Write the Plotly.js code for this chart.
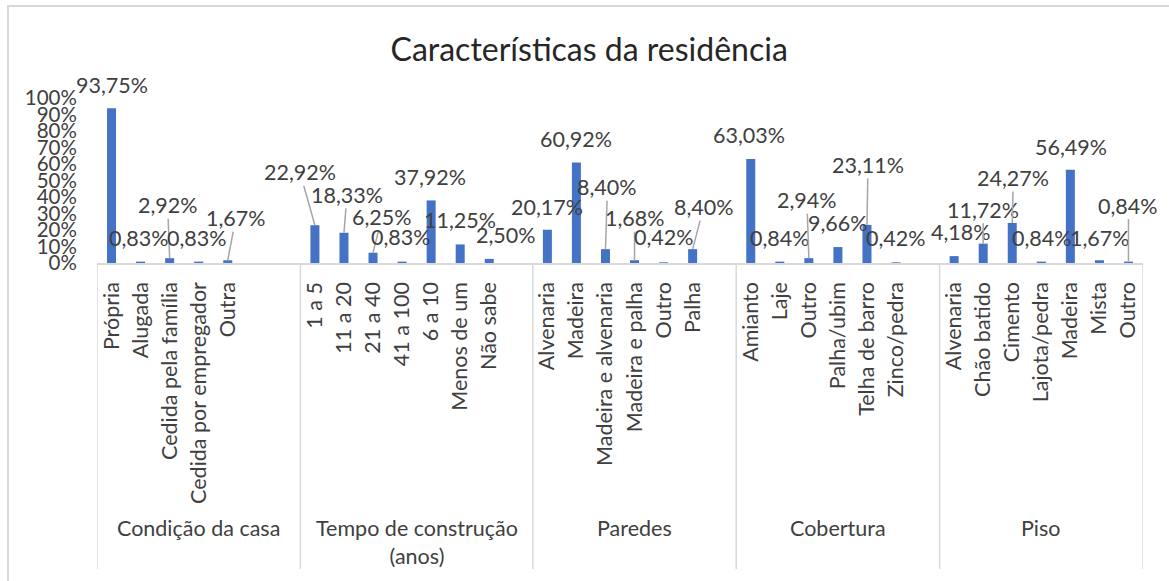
<!DOCTYPE html>
<html>
<head>
<meta charset="utf-8">
<script src="https://cdn.plot.ly/plotly-3.0.1.min.js"></script>
<style>
  html, body { margin: 0; padding: 0; background: #fff; }
  #wrap { position: relative; width: 1169px; height: 581px; overflow: hidden; }
  #chart { position: absolute; left: 0; top: 0; width: 1169px; height: 581px; }
  #frame { position: absolute; left: 7px; top: 5px; width: 1200px; height: 620px;
           border-left: 2px solid #D9D9D9; border-top: 2px solid #D9D9D9; pointer-events: none; }
</style>
</head>
<body>
<div id="wrap"><div id="chart"></div><div id="frame"></div></div>
<script>
// ---- Data ----
const groupNames = ['Condição da casa', 'Tempo de construção<br>(anos)', 'Paredes', 'Cobertura', 'Piso'];

const condicaoCats = ['Própria', 'Alugada', 'Cedida pela família', 'Cedida por empregador', 'Outra', '', ''];
const condicaoVals = [93.75, 0.83, 2.92, 0.83, 1.67, null, null];

const tempoCats = ['1 a 5', '11 a 20', '21 a 40', '41 a 100', '6 a 10', 'Menos de um', 'Não sabe', ''];
const tempoVals = [22.92, 18.33, 6.25, 0.83, 37.92, 11.25, 2.50, null];

const paredesCats = ['Alvenaria', 'Madeira', 'Madeira e alvenaria', 'Madeira e palha', 'Outro', 'Palha', ''];
const paredesVals = [20.17, 60.92, 8.40, 1.68, 0.42, 8.40, null];

const coberturaCats = ['Amianto', 'Laje', 'Outro', 'Palha/ubim', 'Telha de barro', 'Zinco/pedra', ''];
const coberturaVals = [63.03, 0.84, 2.94, 9.66, 23.11, 0.42, null];

const pisoCats = ['Alvenaria', 'Chão batido', 'Cimento', 'Lajota/pedra', 'Madeira', 'Mista', 'Outro'];
const pisoVals = [4.18, 11.72, 24.27, 0.84, 56.49, 1.67, 0.84];

const yTickVals = [0, 10, 20, 30, 40, 50, 60, 70, 80, 90, 100];
const yTickText = ['0%', '10%', '20%', '30%', '40%', '50%', '60%', '70%', '80%', '90%', '100%'];

// ---- Label placement styles (pixel offsets from bar top, leader line flag) ----
const labelStyle = [
  [[0,-23,0],[-2,-24,0],[-2,-53,1],[-2,-24,0],[8,-42,1],null,null],
  [[-15,-53,1],[3,-38,1],[9,-36,1],[-1,-25,0],[-1,-23,0],[0,-24,0],[17,-24,0],null],
  [[0,-23,0],[0,-23,0],[2,-62,1],[0,-42,1],[0,-25,0],[11,-42,1],null],
  [[-2,-24,0],[0,-24,0],[-2,-58,1],[0,-24,0],[1,-60,1],[0,-24,0],null],
  [[7,-24,0],[0,-34,1],[1,-45,1],[1,-24,0],[1,-23,0],[1,-22,0],[0,-56,1]]
];

// ---- Build ----
const groupCats = [condicaoCats, tempoCats, paredesCats, coberturaCats, pisoCats];
const groupVals = [condicaoVals, tempoVals, paredesVals, coberturaVals, pisoVals];

const xs = [], ys = [], tickText = [], annotations = [], shapes = [];
const FONT = 'Lato, "Open Sans", sans-serif';
const TXT = '#404040';
const LBL = 21.5;
let idx = 0;
const boundaries = [-0.5];
groupCats.forEach((cats, g) => {
  const start = idx;
  cats.forEach((c, i) => {
    const v = groupVals[g][i];
    xs.push(idx); ys.push(v); tickText.push(c);
    const st = labelStyle[g][i];
    if (v !== null && st) {
      const txt = v.toFixed(2).replace('.', ',') + '%';
      if (st[2]) {
        annotations.push({x: idx, y: v, xref: 'x', yref: 'y', text: txt, showarrow: true,
          ax: st[0], ay: st[1], arrowhead: 0, arrowwidth: 1.5, arrowcolor: '#A6A6A6', standoff: 0,
          borderpad: 0, font: {family: FONT, size: LBL, color: TXT}});
      } else {
        annotations.push({x: idx, y: v, xref: 'x', yref: 'y', text: txt, showarrow: false,
          xshift: st[0], yshift: -st[1], xanchor: 'center', yanchor: 'middle',
          font: {family: FONT, size: LBL, color: TXT}});
      }
    }
    idx++;
  });
  const end = idx - 1;
  boundaries.push(end + 0.5);
  annotations.push({x: (start + end) / 2, y: 0, xref: 'x', yref: 'paper', text: groupNames[g],
    showarrow: false, yanchor: 'top', yshift: -250, xanchor: 'center', align: 'center',
    font: {family: FONT, size: LBL, color: TXT}});
});

boundaries.forEach(b => {
  shapes.push({type: 'line', xref: 'x', yref: 'paper', x0: b, x1: b, y0: 0, y1: -1.855,
    line: {color: '#D9D9D9', width: 1.5}});
});

const trace = {
  type: 'bar', x: xs, y: ys, marker: {color: '#4472C4'}, hoverinfo: 'skip'
};

const layout = {
  width: 1169, height: 581,
  margin: {l: 97, r: 26, t: 98, b: 318},
  paper_bgcolor: '#fff', plot_bgcolor: '#fff',
  showlegend: false,
  bargap: 0.69,
  title: {text: 'Características da residência', x: 0.504, xref: 'container', xanchor: 'center',
    y: 1 - 50 / 581, yref: 'container', yanchor: 'middle',
    font: {family: FONT, size: 32, color: '#262626'}},
  xaxis: {
    range: [-0.5, idx - 0.5], tickmode: 'array', tickvals: xs, ticktext: tickText,
    tickangle: -90, ticks: 'outside', ticklen: 9, tickcolor: 'rgba(0,0,0,0)',
    showline: true, linecolor: '#D9D9D9', linewidth: 1.5, showgrid: false, zeroline: false,
    automargin: false, fixedrange: true,
    tickfont: {family: FONT, size: LBL, color: TXT}
  },
  yaxis: {
    range: [0, 100], tickmode: 'array', tickvals: yTickVals, ticktext: yTickText,
    ticks: 'outside', ticklen: 15, tickcolor: 'rgba(0,0,0,0)',
    showline: false, showgrid: false, zeroline: false, automargin: false, fixedrange: true,
    tickfont: {family: FONT, size: 20.5, color: TXT}
  },
  annotations: annotations,
  shapes: shapes
};

Plotly.newPlot('chart', [trace], layout, {displayModeBar: false, staticPlot: true});
</script>
</body>
</html>
